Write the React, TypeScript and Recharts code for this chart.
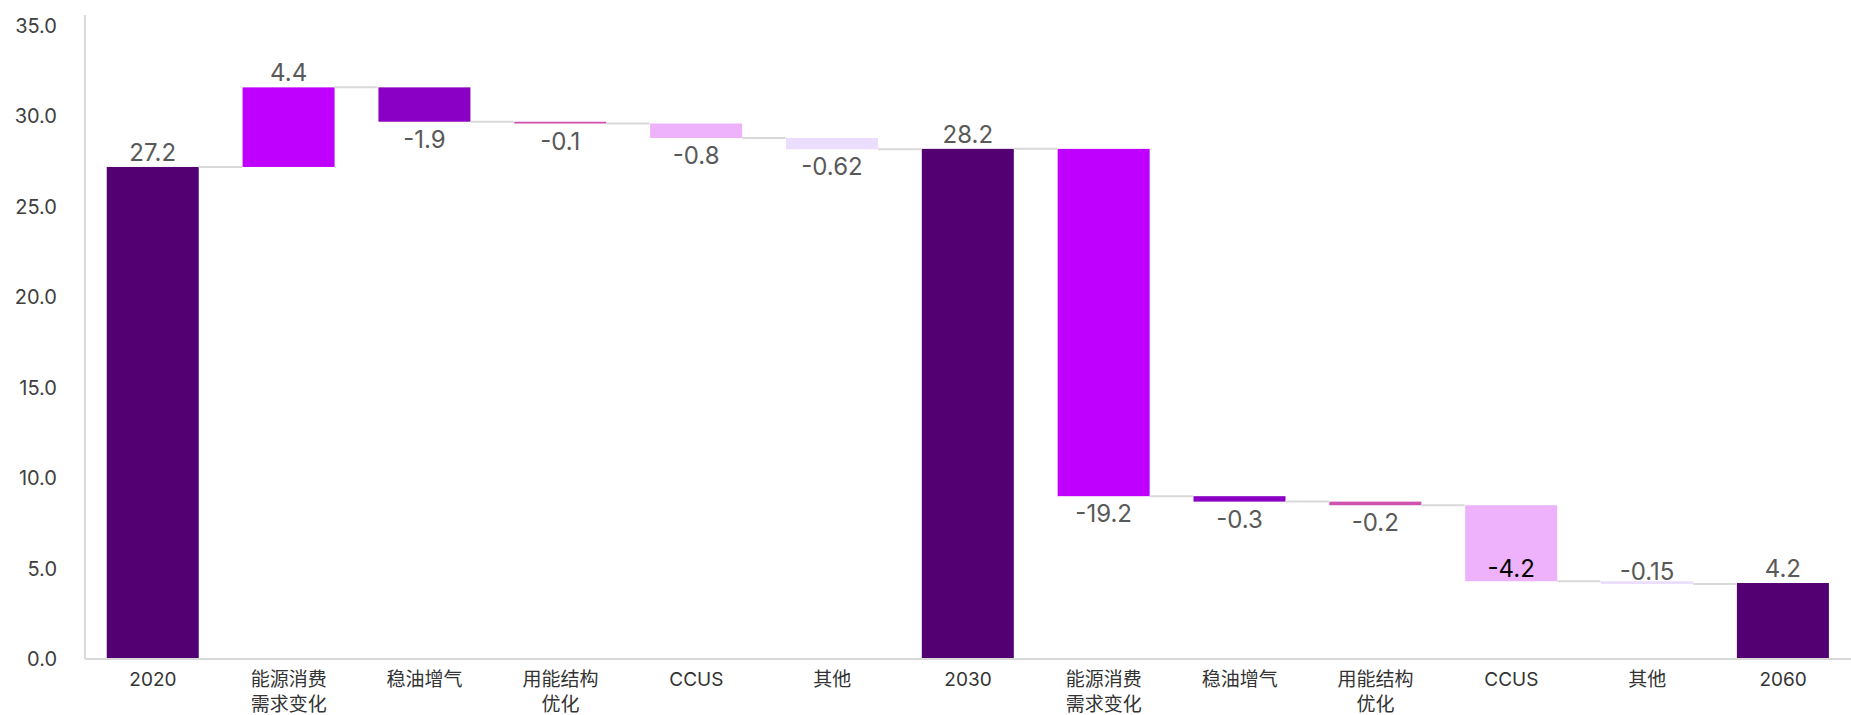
import { BarChart, Bar, XAxis, YAxis } from "recharts";

const categories = [
  "2020",
  "能源消费\n需求变化",
  "稳油增气",
  "用能结构\n优化",
  "CCUS",
  "其他",
  "2030",
  "能源消费\n需求变化",
  "稳油增气",
  "用能结构\n优化",
  "CCUS",
  "其他",
  "2060",
];

// totals are absolute levels, the rest are changes
const values = [27.2, 4.4, -1.9, -0.1, -0.8, -0.62, 28.2, -19.2, -0.3, -0.2, -4.2, -0.15, 4.2];
const isTotal = [true, false, false, false, false, false, true, false, false, false, false, false, true];

const yTicks = [0, 5, 10, 15, 20, 25, 30, 35];

const TOTAL_COLOR = "#520072";
const DRIVER_COLORS = [
  "#bf00ff", // energy demand
  "#8a00c4", // oil & gas
  "#d052b0", // structure
  "#edb2fb", // ccus
  "#ebddfe", // other
];

const GAP = 0.16;
const FONT = "Inter, 'Noto Sans CJK SC', sans-serif";
// labels that sit on top of the lower end instead of below it
const LABEL_ABOVE_END = new Set([10, 11]);

let running = 0;
let driver = 0;
const rows = categories.map((name, i) => {
  const v = values[i];
  if (isTotal[i]) {
    running = v;
    driver = 0;
    return { name, base: 0, size: v, value: v, total: true, color: TOTAL_COLOR };
  }
  const start = running;
  running = start + v;
  const color = DRIVER_COLORS[driver % DRIVER_COLORS.length];
  driver++;
  return {
    name,
    base: Math.min(start, running),
    size: Math.abs(v),
    value: v,
    total: false,
    color,
  };
});

function WaterfallBar(props: any) {
  const { x, y, width, height, index, payload } = props;
  const falling = !payload.total && payload.value < 0;
  const endY = falling ? y + height : y;
  const band = width / (1 - 2 * GAP);
  const gap = band - width;
  const last = index === rows.length - 1;

  let labelY: number;
  let labelColor = "#595959";
  if (!falling) {
    labelY = y - 6;
  } else if (LABEL_ABOVE_END.has(index)) {
    labelY = y + height - 4;
    if (height > 24) labelColor = "#000000";
  } else {
    labelY = y + height + 26;
  }

  return (
    <g>
      <rect x={x} y={y} width={width} height={Math.max(height, 0)} fill={payload.color} />
      {!last && (
        <line
          x1={x + width}
          x2={x + width + gap}
          y1={endY}
          y2={endY}
          stroke="#d9d9d9"
          strokeWidth={2}
        />
      )}
      <text
        x={x + width / 2}
        y={labelY}
        textAnchor="middle"
        fontSize={24}
        fill={labelColor}
      >
        {String(payload.value)}
      </text>
    </g>
  );
}

function CategoryTick(props: any) {
  const { x, y, payload } = props;
  const lines = String(payload.value).split("\n");
  return (
    <text x={x} y={y + 27} textAnchor="middle" fontSize={19} fill="#333333">
      {lines.map((l, i) => (
        <tspan key={i} x={x} dy={i === 0 ? 0 : 25}>
          {l}
        </tspan>
      ))}
    </text>
  );
}

export default function App() {
  return (
    <div style={{ position: "absolute", left: 0, top: 0, fontFamily: FONT, background: "#fff" }}>
      <BarChart
        width={1851}
        height={715}
        data={rows}
        margin={{ top: 15, right: 0, bottom: 0, left: 0 }}
        barCategoryGap={`${GAP * 100}%`}
      >
        <XAxis
          dataKey="name"
          interval={0}
          height={56}
          tickLine={false}
          tickSize={0}
          tickMargin={0}
          axisLine={{ stroke: "#d9d9d9", strokeWidth: 2 }}
          tick={<CategoryTick />}
        />
        <YAxis
          width={85}
          domain={[0, 35.6]}
          ticks={yTicks}
          interval={0}
          tickFormatter={(v) => Number(v).toFixed(1)}
          tickLine={false}
          tickSize={0}
          tickMargin={28}
          axisLine={{ stroke: "#d9d9d9", strokeWidth: 2 }}
          tick={{ fontSize: 20, fill: "#404040" }}
        />
        <Bar dataKey="base" stackId="w" fill="transparent" isAnimationActive={false} />
        <Bar dataKey="size" stackId="w" shape={<WaterfallBar />} isAnimationActive={false} />
      </BarChart>
    </div>
  );
}
